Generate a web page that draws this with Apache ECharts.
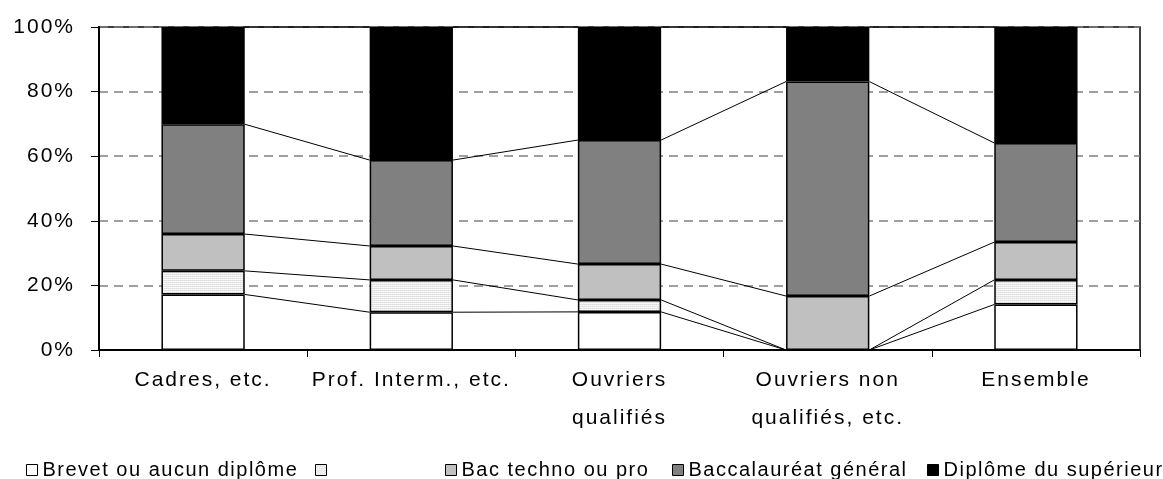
<!DOCTYPE html>
<html>
<head>
<meta charset="utf-8">
<script src="https://cdn.jsdelivr.net/npm/echarts@6/dist/echarts.min.js"></script>
<style>
  html, body { margin: 0; padding: 0; background: #fff; }
  #chart { width: 1163px; height: 479px; }
</style>
</head>
<body>
<div id="chart"></div>
<script>
// Categories (x axis)
const categories = ['Cadres, etc.', 'Prof. Interm., etc.', 'Ouvriers\nqualifiés', 'Ouvriers non\nqualifiés, etc.', 'Ensemble'];

// Shares in % (each column sums to 100)
const brevet     = [17.2, 11.7, 11.8, 0.0, 14.1];
const sansNom    = [ 7.3, 10.0,  3.7, 0.0,  7.6];
const bacTechno  = [11.4, 10.5, 11.1, 16.7, 11.7];
const bacGeneral = [34.0, 26.6, 38.4, 66.4, 30.7];
const superieur  = [30.1, 41.2, 35.0, 16.9, 35.9];

const seriesNames = ['Brevet ou aucun diplôme', ' ', 'Bac techno ou pro', 'Baccalauréat général', 'Diplôme du supérieur'];
const seriesValues = [brevet, sansNom, bacTechno, bacGeneral, superieur];

// Y axis ticks
const yTicks = [0, 20, 40, 60, 80, 100];

const FONT = "'Liberation Sans', Arial, sans-serif";
const AXIS_FONT_SIZE = 21;
const LEGEND_FONT_SIZE = 20;

// Wide-tracked text, as in the original spreadsheet rendering
(function () {
  const proto = CanvasRenderingContext2D.prototype;
  if (!('letterSpacing' in proto)) return;
  const orig = proto.fillText;
  proto.fillText = function (t, x, y, m) {
    const size = parseFloat((/(\d+(\.\d+)?)px/.exec(this.font) || [0, 0])[1]);
    this.letterSpacing = size >= AXIS_FONT_SIZE ? '2px' : '1.5px';
    return m === undefined ? orig.call(this, t, x, y) : orig.call(this, t, x, y, m);
  };
})();

// Fine, pale dotted fill for the unnamed series
function dotPattern() {
  const c = document.createElement('canvas');
  c.width = 4; c.height = 2;
  const g = c.getContext('2d');
  g.fillStyle = '#f7f7f7'; g.fillRect(0, 0, 4, 2);
  g.fillStyle = '#dcdcdc'; g.fillRect(0, 0, 1, 1); g.fillRect(2, 0, 1, 1);
  g.fillStyle = '#e8e8e8'; g.fillRect(1, 0, 1, 1); g.fillRect(3, 0, 1, 1);
  return { image: c, repeat: 'repeat' };
}

const fills = ['#ffffff', dotPattern(), '#c0c0c0', '#808080', '#000000'];

// Cumulative tops per category, used for the connecting series lines
const cumul = categories.map((_, i) => {
  let s = 0;
  return seriesValues.map(arr => (s += arr[i]));
});
const linkData = [];
for (let i = 0; i < categories.length - 1; i++) {
  linkData.push([i].concat(cumul[i], cumul[i + 1]));
}

const barSeries = seriesNames.map((name, k) => ({
  name: name,
  type: 'bar',
  stack: 'total',
  barWidth: '40%',
  data: seriesValues[k],
  itemStyle: { color: fills[k], borderColor: '#000', borderWidth: 1.5 },
  emphasis: { disabled: true },
  silent: true
}));

const linkSeries = {
  type: 'custom',
  silent: true,
  encode: { x: 0, y: 1 },
  data: linkData,
  z: 3,
  renderItem: function (params, api) {
    const i = api.value(0);
    const half = api.size([1, 0])[0] * 0.2;
    const n = seriesNames.length;
    const children = [];
    for (let k = 0; k < n; k++) {
      const a = api.coord([i, api.value(1 + k)]);
      const b = api.coord([i + 1, api.value(1 + n + k)]);
      children.push({
        type: 'line',
        shape: { x1: a[0] + half, y1: a[1], x2: b[0] - half, y2: b[1] },
        style: { stroke: '#000', lineWidth: 1 }
      });
    }
    return { type: 'group', children: children };
  }
};

// One legend block per entry, laid out along the bottom
const legendLeft = [21, 310, 440, 667, 922];
const legends = seriesNames.map((name, k) => ({
  data: [name],
  left: legendLeft[k],
  top: 455,
  icon: 'rect',
  itemWidth: 11,
  itemHeight: 11,
  itemGap: 0,
  selectedMode: false,
  itemStyle: { borderColor: '#000', borderWidth: 1 },
  textStyle: { fontFamily: FONT, fontSize: LEGEND_FONT_SIZE, color: '#000', padding: [0, 0, 0, 0] }
}));

const chart = echarts.init(document.getElementById('chart'), null, { renderer: 'canvas' });
chart.setOption({
  animation: false,
  backgroundColor: '#fff',
  grid: {
    left: 99, right: 23, top: 27, bottom: 129,
    show: true, borderColor: '#000', borderWidth: 1.5, backgroundColor: 'transparent'
  },
  legend: legends,
  xAxis: {
    type: 'category',
    data: categories,
    axisLine: { lineStyle: { color: '#000', width: 2 } },
    axisTick: { show: true, length: 7, lineStyle: { color: '#000' } },
    axisLabel: { fontFamily: FONT, fontSize: AXIS_FONT_SIZE, color: '#000', margin: 11, lineHeight: 38, interval: 0 },
    splitLine: { show: false }
  },
  yAxis: {
    type: 'value',
    min: yTicks[0],
    max: yTicks[yTicks.length - 1],
    interval: yTicks[1] - yTicks[0],
    axisLine: { show: true, lineStyle: { color: '#000', width: 2 } },
    axisTick: { show: true, length: 8, lineStyle: { color: '#000' } },
    axisLabel: { fontFamily: FONT, fontSize: AXIS_FONT_SIZE, color: '#000', margin: 24, formatter: '{value}%' },
    splitLine: { show: true, lineStyle: { color: '#808080', width: 1.5, type: [9, 6] } }
  },
  series: barSeries.concat([linkSeries])
});
</script>
</body>
</html>
